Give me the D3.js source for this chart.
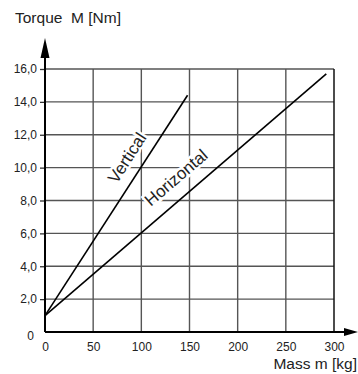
<!DOCTYPE html>
<html><head><meta charset="utf-8">
<script src="https://cdn.jsdelivr.net/npm/d3@7"></script>
<style>
html,body{margin:0;padding:0;background:#fff;}
svg{display:block;font-family:"Liberation Sans",Arial,Helvetica,sans-serif;}
</style></head>
<body><svg id="c" width="358" height="374"></svg>
<script>
const xTicks = [0, 50, 100, 150, 200, 250, 300];
const xTickLabels = ["0", "50", "100", "150", "200", "250", "300"];
const yTicks = [0, 2, 4, 6, 8, 10, 12, 14, 16];
const yTickLabels = ["0", "2,0", "4,0", "6,0", "8,0", "10,0", "12,0", "14,0", "16,0"];
const verticalMass = [0, 148];
const verticalTorque = [1.0, 14.4];
const horizontalMass = [0, 292];
const horizontalTorque = [1.0, 15.7];
const seriesNames = ["Vertical", "Horizontal"];
const labelMass = [85, 136];
const labelTorque = [10.6, 9.4];

const svg = d3.select("#c");
const x = d3.scaleLinear().domain([0, 300]).range([45, 334]);
const y = d3.scaleLinear().domain([0, 16]).range([332, 69]);
const txt = "#222";

// grid
const g = svg.append("g");
g.selectAll(".hg").data(yTicks.filter(d => d > 0)).enter().append("line")
  .attr("x1", x(0)).attr("x2", x(300)).attr("y1", d => y(d)).attr("y2", d => y(d))
  .attr("stroke", "#555").attr("stroke-width", 1.4);
g.selectAll(".vg").data(xTicks.filter(d => d > 0 && d < 300)).enter().append("line")
  .attr("y1", y(0)).attr("y2", y(16)).attr("x1", d => x(d)).attr("x2", d => x(d))
  .attr("stroke", "#555").attr("stroke-width", 1.4);
// right border
g.append("line").attr("x1", x(300)).attr("x2", x(300)).attr("y1", y(0)).attr("y2", y(16))
  .attr("stroke", "#111").attr("stroke-width", 1.5);

// y axis ticks (left)
const yAxis = d3.axisLeft(y).tickValues(yTicks).tickFormat((d, i) => yTickLabels[i]).tickSize(5).tickPadding(3);
const ya = svg.append("g").attr("transform", `translate(${x(0)},0)`).call(yAxis);
ya.select(".domain").remove();
ya.selectAll(".tick line").attr("stroke", "#333").attr("stroke-width", 1.3)
  .filter(d => d === 0).remove();
ya.selectAll(".tick text").attr("fill", txt).attr("font-size", 12).attr("font-family", "Liberation Sans, Arial, sans-serif")
  .filter(d => d === 0).attr("x", -11).attr("dy", "0.6em");

// x axis labels
const xAxis = d3.axisBottom(x).tickValues(xTicks).tickFormat((d, i) => xTickLabels[i]).tickSize(0).tickPadding(10);
const xa = svg.append("g").attr("transform", `translate(0,${y(0)})`).call(xAxis);
xa.select(".domain").remove();
xa.selectAll(".tick text").attr("fill", txt).attr("font-size", 12).attr("font-family", "Liberation Sans, Arial, sans-serif");

// main axes
svg.append("line").attr("x1", x(0)).attr("x2", 350).attr("y1", y(0)).attr("y2", y(0))
  .attr("stroke", "#000").attr("stroke-width", 2);
svg.append("line").attr("x1", x(0)).attr("x2", x(0)).attr("y1", y(0)).attr("y2", 45)
  .attr("stroke", "#000").attr("stroke-width", 2);
// arrowheads
svg.append("path").attr("d", `M${x(0)},38 L${x(0) - 4.5},58 L${x(0) + 4.5},58 Z`).attr("fill", "#000");
svg.append("path").attr("d", `M358,${y(0)} L344,${y(0) - 4} L344,${y(0) + 4} Z`).attr("fill", "#000");

// data lines
const line = d3.line().x(d => x(d[0])).y(d => y(d[1]));
const vData = verticalMass.map((m, i) => [m, verticalTorque[i]]);
const hData = horizontalMass.map((m, i) => [m, horizontalTorque[i]]);
[vData, hData].forEach(d => {
  svg.append("path").datum(d).attr("d", line).attr("fill", "none")
    .attr("stroke", "#000").attr("stroke-width", 1.6);
});

// series labels
[vData, hData].forEach((d, i) => {
  const a = Math.atan2(y(d[1][1]) - y(d[0][1]), x(d[1][0]) - x(d[0][0])) * 180 / Math.PI;
  const px = x(labelMass[i]), py = y(labelTorque[i]);
  svg.append("text").attr("transform", `translate(${px},${py}) rotate(${a})`)
    .attr("text-anchor", "middle").attr("dy", "0.35em")
    .attr("font-size", 17).attr("fill", txt)
    .attr("stroke", "#fff").attr("stroke-width", 5).attr("paint-order", "stroke")
    .text(seriesNames[i]);
});

// axis titles
svg.append("text").attr("x", 15).attr("y", 23).attr("font-size", 15.5).attr("fill", txt)
  .attr("xml:space", "preserve").style("white-space", "pre").text("Torque  M [Nm]");
svg.append("text").attr("x", 357).attr("y", 369).attr("text-anchor", "end").attr("font-size", 15.5).attr("fill", txt)
  .text("Mass m [kg]");
</script></body></html>
